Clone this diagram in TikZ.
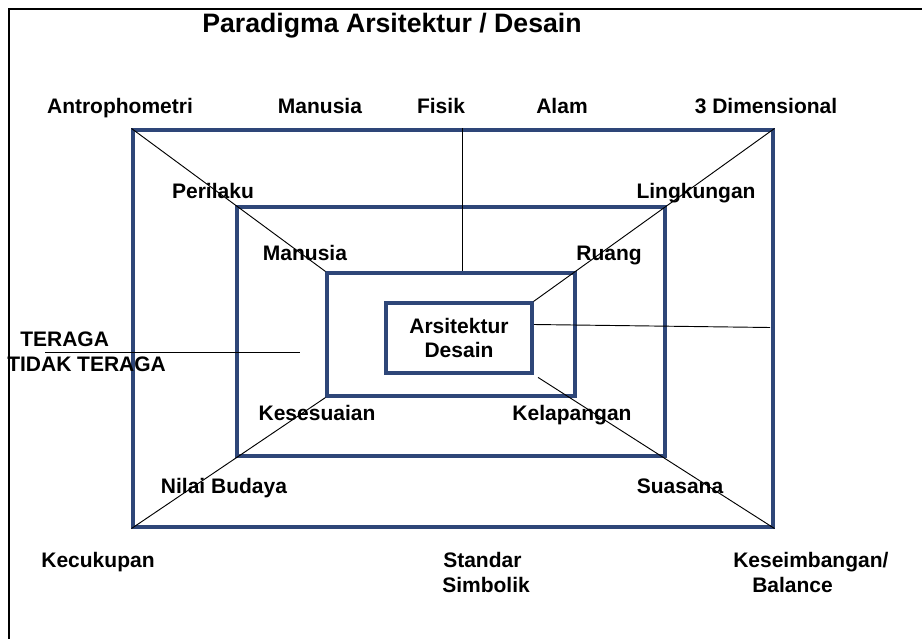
\documentclass[tikz,border=0pt]{standalone}
\usepackage{fontspec}
\setmainfont{Liberation Sans}
\usetikzlibrary{fit}
\definecolor{navy}{RGB}{46,70,120}

\begin{document}
\begin{tikzpicture}[x=0.75pt, y=-0.75pt,
  ring/.style={draw=navy, line width=2.3pt, inner sep=0pt},
  hubbox/.style={draw=navy, line width=2.3pt, minimum width=109.5pt, minimum height=52.5pt, align=center, font=\fontsize{15.75}{18}\selectfont\bfseries},
  term/.style={font=\fontsize{15.75}{18.75}\selectfont\bfseries, inner sep=0pt, anchor=base, align=left},
  spoke/.style={draw=black, line width=0.7pt},
  border/.style={draw=black, line width=2.2pt}
]
\useasboundingbox (0,0) rectangle (922,639);
\draw[border] (9,639) -- (9,9) -- (922,9);

\node[ring, fit={(133,130) (773,527)}] (outer) {};
\node[ring, fit={(237,207) (665,456)}] (middle) {};
\node[ring, fit={(327,273) (575,396)}] (inner) {};
\node[hubbox] (hub) at (459,338) {Arsitektur\\Desain};

\coordinate (plumb) at (462.5,0);
\coordinate (tieA) at (534,324.5);
\coordinate (tieB) at (770,327.5);
\coordinate (cutA) at (45,352.5);
\coordinate (cutB) at (300,352.5);
\draw[spoke] (outer.north west) -- (inner.north west);
\draw[spoke] (outer.north east) -- (hub.north east);
\draw[spoke] (outer.south west) -- (inner.south west);
\draw[spoke, shorten <=4pt] (hub.south east) -- (outer.south east);
\draw[spoke] (outer.north -| plumb) -- (inner.north -| plumb);
\draw[spoke] (tieA) -- (tieB);
\draw[spoke] (cutA) -- (cutB);

\node[term, font=\fontsize{20}{24}\selectfont\bfseries] (title) at (392,32) {Paradigma Arsitektur / Desain};
\node[term] (antro) at (120,113) {Antrophometri};
\node[term] (manusiaA) at (320,113) {Manusia};
\node[term] (fisik) at (441,113) {Fisik};
\node[term] (alam) at (562,113) {Alam};
\node[term] (dimensi) at (766,113) {3 Dimensional};
\node[term] (perilaku) at (213,198) {Perilaku};
\node[term] (lingkungan) at (696,198) {Lingkungan};
\node[term] (manusiaB) at (305,260) {Manusia};
\node[term] (ruang) at (609,260) {Ruang};
\node[term, anchor=base west] (teraga) at (7,371) {\hspace*{9.75pt}TERAGA\\TIDAK TERAGA};
\node[term] (sesuai) at (317,420) {Kesesuaian};
\node[term] (lapang) at (572,420) {Kelapangan};
\node[term] (budaya) at (224,493) {Nilai Budaya};
\node[term] (suasana) at (680,493) {Suasana};
\node[term] (cukup) at (98,567) {Kecukupan};
\node[term, anchor=base west] (standar) at (442,592) {\hspace*{0.75pt}Standar\\Simbolik};
\node[term, anchor=base west] (imbang) at (733,592) {Keseimbangan/\\\hspace*{14.25pt}Balance};
\end{tikzpicture}
\end{document}
